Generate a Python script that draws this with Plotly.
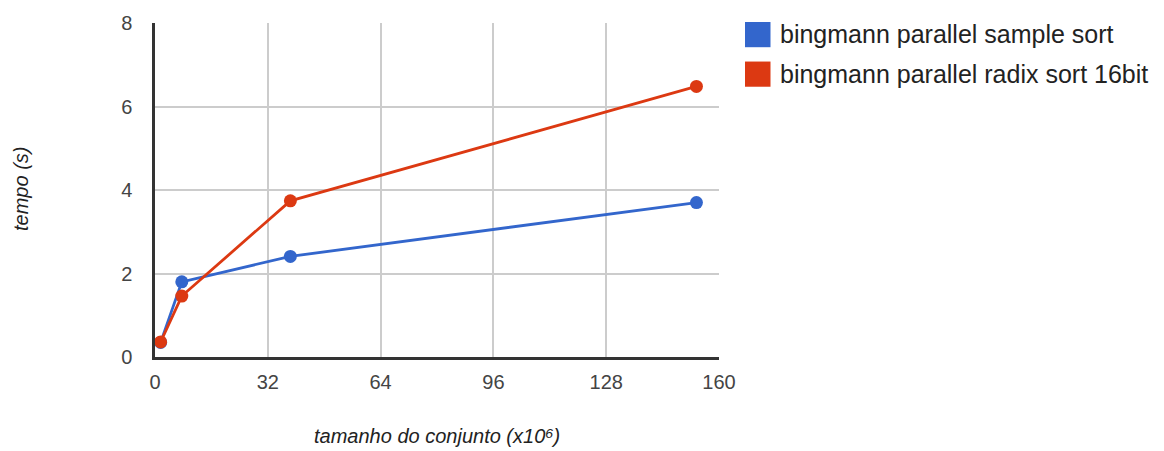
import plotly.graph_objects as go

# Dataset sizes (millions of elements) and sort times (seconds)
tamanhos = [1.6, 7.6, 38.4, 153.6]
sample_sort = [0.35, 1.80, 2.41, 3.70]
radix_sort_16bit = [0.36, 1.46, 3.74, 6.48]

series_names = ["bingmann parallel sample sort", "bingmann parallel radix sort 16bit"]
series_colors = ["#3366CC", "#DC3912"]

x_ticks = [0, 32, 64, 96, 128, 160]
y_ticks = [0, 2, 4, 6, 8]

W, H = 1164, 451
L, R, T, B = 155, 719, 19, 357  # plot area in pixels


def px_x(p):
    return (p - L) / (R - L)


def px_y(p):
    return (B - p) / (B - T)


fig = go.Figure()
for name, ys, color in zip(series_names, [sample_sort, radix_sort_16bit], series_colors):
    fig.add_trace(go.Scatter(
        x=tamanhos, y=ys, name=name, mode="lines+markers",
        line=dict(color=color, width=2.8),
        marker=dict(color=color, size=13),
        showlegend=False, cliponaxis=False,
    ))

font = "Liberation Sans, Arial, sans-serif"

# Legend drawn as colour squares with labels
shapes = []
annotations = []
for i, (name, color) in enumerate(zip(series_names, series_colors)):
    top = 18 + i * 40
    shapes.append(dict(
        type="rect", xref="paper", yref="paper",
        x0=px_x(745), x1=px_x(770.5), y0=px_y(top + 25.5), y1=px_y(top),
        fillcolor=color, line=dict(width=0),
    ))
    annotations.append(dict(
        text=name, xref="paper", yref="paper",
        x=px_x(778), y=px_y(top + 12.5), xanchor="left", yanchor="middle",
        showarrow=False, font=dict(family=font, size=25, color="#222222"),
    ))

annotations.append(dict(
    text="<i>tamanho do conjunto (x10⁶)</i>", xref="paper", yref="paper",
    x=px_x(437), y=px_y(437), xanchor="center", yanchor="middle",
    showarrow=False, font=dict(family=font, size=20, color="#222222"),
))
annotations.append(dict(
    text="<i>tempo (s)</i>", xref="paper", yref="paper", textangle=-90,
    x=px_x(21), y=px_y(187), xanchor="center", yanchor="middle",
    showarrow=False, font=dict(family=font, size=20, color="#222222"),
))

fig.update_layout(
    width=W, height=H,
    margin=dict(l=L, r=W - R, t=T, b=H - B, pad=0),
    paper_bgcolor="white", plot_bgcolor="white",
    font=dict(family=font, size=20, color="#444444"),
    shapes=shapes, annotations=annotations,
    xaxis=dict(
        range=[0, 160], tickvals=x_ticks, ticktext=[str(v) for v in x_ticks],
        showgrid=True, gridcolor="#CCCCCC", gridwidth=1.5,
        showline=True, linecolor="#333333", linewidth=2.5,
        zeroline=False, ticks="", ticklabelstandoff=5,
    ),
    yaxis=dict(
        range=[0, 8], tickvals=y_ticks, ticktext=[str(v) for v in y_ticks],
        showgrid=True, gridcolor="#CCCCCC", gridwidth=1.5,
        showline=True, linecolor="#333333", linewidth=2.5,
        zeroline=False, ticks="", ticklabelstandoff=16,
    ),
)

fig.write_html("out.html")
